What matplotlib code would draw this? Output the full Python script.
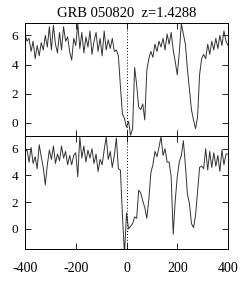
import numpy as np
import matplotlib.pyplot as plt

# velocity grid (km/s) and normalised flux
velocity = np.arange(-400, 401, 8)

flux_top = [
    6.1, 5.6, 5.8, 4.9, 5.6, 4.4, 5.3, 4.6, 5.5, 5.0,
    6.0, 5.2, 6.6, 5.0, 6.7, 5.4, 4.8, 6.2, 5.0, 6.6,
    5.6, 5.9, 4.9, 4.3, 5.8, 5.3, 6.8, 5.1, 6.2, 4.8,
    5.9, 5.2, 6.3, 4.7, 5.6, 6.2, 4.9, 5.8, 4.6, 6.3,
    5.0, 5.7, 5.1, 5.8, 4.9, 5.0, 4.6, 2.5, 0.6, 0.3,
    -0.3, 0.1, -0.85, -0.4, 3.8, 2.6, 1.1, 0.9, 1.3, 0.2,
    3.6, 4.4, 4.9, 4.5, 5.4, 4.9, 5.6, 5.2, 5.8, 5.0,
    6.1, 5.4, 6.2, 5.0, 4.2, 3.3, 4.8, 6.8, 6.1, 5.4,
    3.7, 2.3, 0.9, 0.2, -0.4, 0.4, 3.3, 4.4, 4.7, 4.4,
    5.4, 4.7, 5.6, 5.0, 5.8, 5.1, 6.0, 5.3, 6.3, 5.6,
    5.3,
]

flux_bottom = [
    5.8, 5.9, 5.0, 6.1, 4.9, 5.4, 4.5, 6.3, 5.4, 4.6,
    3.3, 4.8, 5.9, 5.2, 6.2, 4.9, 5.6, 5.1, 6.2, 5.3,
    5.8, 4.8, 5.5, 4.8, 5.5, 5.7, 3.9, 6.9, 5.3, 6.2,
    5.0, 5.9, 5.3, 6.0, 4.9, 5.6, 4.3, 5.2, 4.8, 5.9,
    6.9, 5.2, 5.8, 4.6, 5.5, 6.8, 4.5, 4.4, 1.0, -1.9,
    1.2, 0.0, 0.2, 0.4, 0.9, 0.8, 2.9, 2.7, 2.1, 1.6,
    0.8, 2.2, 4.2, 4.8, 5.8, 5.4, 6.1, 6.9, 5.5, 6.0,
    5.0, 5.0, 3.9, -0.4, 2.1, 3.9, 5.0, 5.5, 6.6, 4.8,
    2.6, 1.9, 0.4, 0.1, 1.0, 2.8, 4.6, 4.7, 4.5, 6.0,
    4.4, 5.8, 4.6, 5.7, 4.7, 5.5, 4.3, 5.9, 4.8, 5.6,
    5.6,
]

title = "GRB 050820  z=1.4288"
xticks = [-400, -200, 0, 200, 400]
yticks = [0, 2, 4, 6]

plt.rcParams['font.family'] = ['Liberation Serif', 'DejaVu Serif']
plt.rcParams['axes.unicode_minus'] = False

fig = plt.figure(figsize=(2.49, 2.85), dpi=100)
ax1 = fig.add_axes([0.1004, 0.5228, 0.8153, 0.3965])
ax2 = fig.add_axes([0.1004, 0.1263, 0.8153, 0.3965])

for ax, flux, ylim in [(ax1, flux_top, (-0.9, 6.85)), (ax2, flux_bottom, (-1.5, 6.95))]:
    ax.plot(velocity, flux, color='#333333', lw=0.7)
    ax.axvline(0, color='black', ls=(0, (1, 2)), lw=0.7)
    ax.set_xlim(-400, 400)
    ax.set_ylim(*ylim)
    ax.set_xticks(xticks)
    ax.set_yticks(yticks)
    ax.tick_params(direction='in', top=True, right=True, length=4.5, width=0.6)
    ax.tick_params(axis='y', labelsize=9.5, pad=5)
    ax.tick_params(axis='x', labelsize=10, pad=9)
    for s in ax.spines.values():
        s.set_linewidth(0.7)

ax1.tick_params(labelbottom=False)
ax1.set_title(title, fontsize=10.5, pad=4)

fig.savefig('out.png', dpi=100)
